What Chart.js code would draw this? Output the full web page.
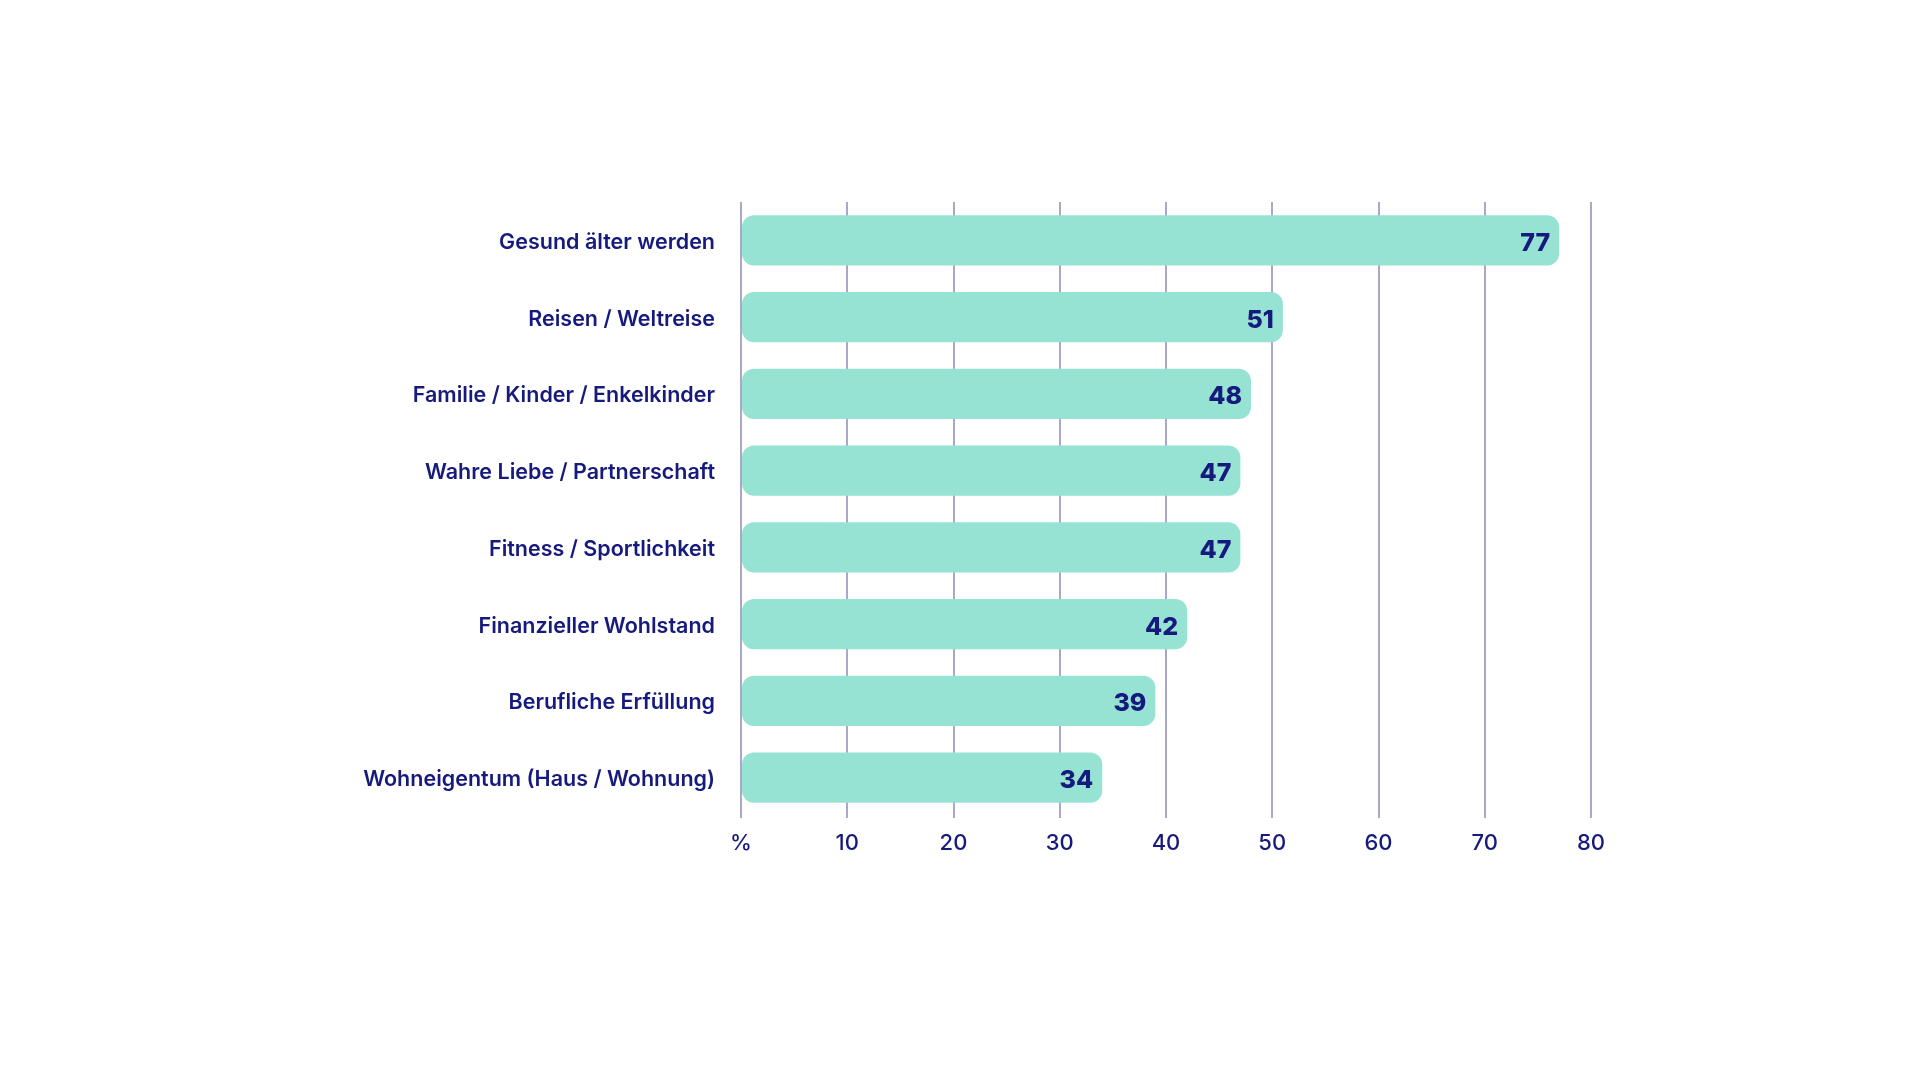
<!DOCTYPE html>
<html>
<head>
<meta charset="utf-8">
<script src="https://cdn.jsdelivr.net/npm/chart.js@4.4.1/dist/chart.umd.min.js"></script>
<style>
html,body{margin:0;padding:0;background:#ffffff;}
#wrap{width:1920px;height:1080px;position:relative;}
</style>
</head>
<body>
<div id="wrap"><canvas id="c" width="1920" height="1080"></canvas></div>
<script>
const categories = [
  'Gesund älter werden',
  'Reisen / Weltreise',
  'Familie / Kinder / Enkelkinder',
  'Wahre Liebe / Partnerschaft',
  'Fitness / Sportlichkeit',
  'Finanzieller Wohlstand',
  'Berufliche Erfüllung',
  'Wohneigentum (Haus / Wohnung)'
];
const values = [77, 51, 48, 47, 47, 42, 39, 34];
const xTickValues = [0, 10, 20, 30, 40, 50, 60, 70, 80];
const xTickLabels = ['%', '10', '20', '30', '40', '50', '60', '70', '80'];

const NAVY = '#161a7c';
const MINT = '#96e3d4';
const GRID = '#aaa8c8';

const valueLabels = {
  id: 'valueLabels',
  afterDatasetsDraw(chart) {
    const ctx = chart.ctx;
    const meta = chart.getDatasetMeta(0);
    ctx.save();
    ctx.fillStyle = NAVY;
    ctx.font = '800 25px Inter';
    ctx.textAlign = 'right';
    ctx.textBaseline = 'middle';
    meta.data.forEach((bar, i) => {
      ctx.fillText(String(values[i]), bar.x - 9, bar.y + 3);
    });
    ctx.restore();
  }
};

new Chart(document.getElementById('c'), {
  type: 'bar',
  data: {
    labels: categories,
    datasets: [{
      data: values,
      backgroundColor: MINT,
      borderRadius: 12,
      borderSkipped: false,
      barPercentage: 0.655,
      categoryPercentage: 1.0
    }]
  },
  options: {
    indexAxis: 'y',
    responsive: false,
    animation: false,
    layout: { padding: { top: 202, right: 329, left: 0, bottom: 0 } },
    plugins: { legend: { display: false }, tooltip: { enabled: false } },
    scales: {
      x: {
        min: 0, max: 80,
        afterBuildTicks(scale) { scale.ticks = xTickValues.map(v => ({ value: v })); },
        afterFit(scale) { scale.height = 1080 - 816 - 0; },
        grid: { color: GRID, lineWidth: 2, drawTicks: true, tickLength: 2, tickColor: GRID },
        border: { display: false },
        ticks: {
          padding: 12,
          color: NAVY,
          font: { family: 'Inter', size: 22, weight: '500' },
          callback(value) { const i = xTickValues.indexOf(value); return i >= 0 ? xTickLabels[i] : ''; }
        }
      },
      y: {
        afterFit(scale) { scale.width = 741; },
        grid: { display: false },
        border: { display: false },
        ticks: {
          padding: 18,
          labelOffset: 2,
          color: NAVY,
          font: { family: 'Inter', size: 21.5, weight: '600' }
        }
      }
    }
  },
  plugins: [valueLabels]
});
</script>
</body>
</html>
